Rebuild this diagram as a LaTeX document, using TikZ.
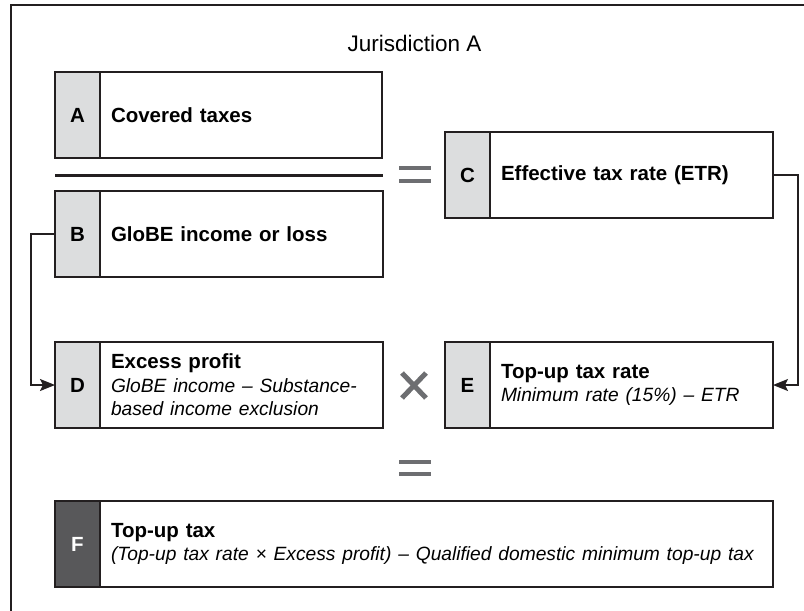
\documentclass[tikz,border=0pt]{standalone}
\usepackage{fontspec}
\setmainfont{Liberation Sans}
\usetikzlibrary{arrows.meta}
\pgfdeclarelayer{edgelayer}
\pgfdeclarelayer{nodelayer}
\pgfsetlayers{edgelayer,nodelayer,main}
\definecolor{ink}{HTML}{231F20}
\definecolor{lightgrey}{HTML}{DCDDDE}
\definecolor{darkgrey}{HTML}{58585A}
\definecolor{opgrey}{HTML}{6D6E71}
\tikzset{font=\fontsize{20.5}{23.5}\selectfont}
\tikzstyle{none}=[inner sep=0pt]
\tikzstyle{letter}=[draw=ink,fill=lightgrey,line width=1.5pt,minimum width=45pt,minimum height=86pt,inner sep=0pt,outer sep=0pt,font=\fontsize{20.5}{23.5}\selectfont\bfseries]
\tikzstyle{darkletter}=[letter,fill=darkgrey,text=white]
\tikzstyle{textbox}=[draw=ink,fill=white,line width=1.5pt,minimum height=86pt,inner xsep=11pt,inner ysep=0pt,outer sep=0pt,anchor=west,align=left,font=\fontsize{20.5}{23.5}\selectfont]
\tikzstyle{op}=[draw=opgrey,line width=4pt]
\tikzstyle{link}=[draw=ink,line width=1.5pt,-{Stealth[length=15pt,width=12pt,inset=3pt]}]
\newcommand{\subline}[1]{{\fontsize{19.2}{23.5}\selectfont\itshape #1}}

\begin{document}
\begin{tikzpicture}[x=1pt,y=-1pt]
	\useasboundingbox (0,0) rectangle (804,611);
	\begin{pgfonlayer}{nodelayer}
		\node [style=none, font=\fontsize{22.5}{26}\selectfont, anchor=base] (title) at (414.5, 51) {Jurisdiction A};
		\node [style=letter] (A) at (77.5, 115) {A};
		\node [style=textbox, text width=260pt] (At) at (A.east) {\textbf{Covered taxes}};
		\node [style=letter] (B) at (77.5, 234) {B};
		\node [style=textbox, text width=261pt] (Bt) at (B.east) {\textbf{GloBE income or loss}};
		\node [style=letter] (C) at (467.5, 175) {C};
		\node [style=textbox, text width=261pt] (Ct) at (C.east) {\textbf{Effective tax rate (ETR)}};
		\node [style=letter] (D) at (77.5, 385) {D};
		\node [style=textbox, text width=261pt] (Dt) at (D.east) {\textbf{Excess profit}\\\subline{GloBE income -- Substance-}\\\subline{based income exclusion}};
		\node [style=letter] (E) at (467.5, 385) {E};
		\node [style=textbox, text width=261pt] (Et) at (E.east) {\textbf{Top-up tax rate}\\\subline{Minimum rate (15\%) -- ETR}};
		\node [style=darkletter] (F) at (77.5, 544) {F};
		\node [style=textbox, text width=651pt] (Ft) at (F.east) {\textbf{Top-up tax}\\\subline{\mbox{(Top-up tax rate × Excess profit) -- Qualified domestic minimum top-up tax}}};
	\end{pgfonlayer}
	\begin{pgfonlayer}{edgelayer}
		\draw[ink, line width=2pt] (804, 5) -- (11, 5) -- (11, 611);
		\draw[ink, line width=3pt] (55, 175) -- (383, 175);
		\draw[style=op] (399, 168) -- (431, 168) (399, 180.5) -- (431, 180.5);
		\draw[style=op] (399, 462) -- (431, 462) (399, 474) -- (431, 474);
		\draw[style=op, line width=5pt] (402, 373) -- (426, 398) (402, 398) -- (426, 373);
		\draw[style=link] (B.west) -- ++(-24, 0) |- (D.west);
		\draw[style=link] (Ct.east) -- ++(25, 0) |- (Et.east);
	\end{pgfonlayer}
\end{tikzpicture}
\end{document}
